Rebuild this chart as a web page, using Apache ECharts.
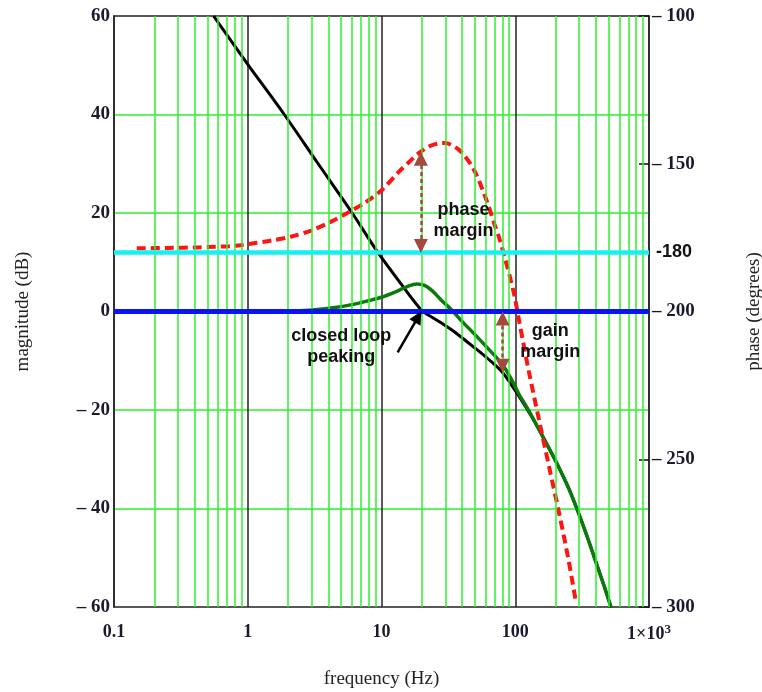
<!DOCTYPE html>
<html>
<head>
<meta charset="utf-8">
<script src="https://cdn.jsdelivr.net/npm/echarts@6/dist/echarts.min.js"></script>
<style>
html, body { margin: 0; padding: 0; background: #fff; }
#chart { width: 762px; height: 692px; }
</style>
</head>
<body>
<div id="chart"></div>
<script>
// open loop magnitude (dB)
var freqOpen = [0.555, 1, 1.875, 3.3, 5.94, 9.17, 14, 20, 24, 28.3, 35, 50.4, 65, 80.5, 93, 106.6, 125, 150, 200, 250, 300, 350, 400, 460, 521];
var magOpen  = [60, 50.2, 40, 30.3, 20.3, 12.4, 5.6, 0.2, -1.2, -2.4, -4.1, -7.5, -10, -12.4, -14.8, -17.2, -20.2, -23.9, -30.3, -35.8, -41.2, -46.2, -50.8, -55.6, -60.1];
// closed loop magnitude (dB)
var freqClosed = [2.2, 3, 4.2, 6, 8, 10, 13, 16, 18.3, 21, 24, 28, 33.5, 40, 50, 63, 80.5, 95, 106.6, 120, 134, 160, 200, 250, 300, 350, 400, 460, 521];
var magClosed  = [0.1, 0.3, 0.7, 1.4, 2.2, 2.9, 4.1, 5.2, 5.6, 5.3, 4.2, 2.3, 0.3, -2.0, -4.7, -7.6, -10.8, -14.1, -16.8, -19.1, -21.4, -25.3, -30.3, -35.8, -41.2, -46.2, -50.8, -55.6, -60.1];
// open loop phase (degrees)
var freqPhase = [0.148, 0.25, 0.42, 0.79, 1.11, 1.5, 2.1, 2.98, 4.2, 5.6, 7.5, 10, 13.3, 16, 18.9, 22.5, 26.7, 30, 33.5, 38, 42.3, 48, 53.3, 58, 63.4, 70, 75.4, 84.5, 97.7, 106.6, 126.7, 150.6, 179, 213, 250, 284];
var phaseDeg  = [-178.6, -178.5, -178.3, -177.8, -176.9, -176, -174.7, -172.6, -169.6, -166.6, -163.2, -159, -153, -149.5, -146.5, -144.2, -143.1, -143, -143.7, -145.3, -147.6, -151.2, -155.5, -159.7, -164.5, -170.5, -174.7, -182.6, -193.8, -202.9, -220.5, -236.7, -252.5, -268.3, -284, -298.2];

var phaseMarginFreq = 19.7;
var phaseMarginTop = -146;
var gainMarginFreq = 80.5;
var gainMarginLow = -12.4;

function pairs(xs, ys) {
	var out = [];
	for (var i = 0; i < xs.length; i++) out.push([xs[i], ys[i]]);
	return out;
}

// minor log grid lines 2..9 in every decade
var minorLines = [];
[0.1, 1, 10, 100].forEach(function (d) {
	for (var k = 2; k <= 9; k++) minorLines.push({ xAxis: Number((d * k).toPrecision(3)) });
});

var serif = 'Liberation Serif';
var sans = 'Liberation Sans';
var gridGreen = '#2cf02c';
var brown = '#a24a3e';

var myChart = echarts.init(document.getElementById('chart'));
var option = {
	animation: false,
	grid: {
		left: 114, right: 113, top: 16, bottom: 85,
		outerBoundsMode: 'none', containLabel: false,
		show: true, borderColor: '#222', borderWidth: 1.5, backgroundColor: '#fff'
	},
	xAxis: {
		type: 'log', logBase: 10, min: 0.1, max: 1000,
		name: 'frequency (Hz)', nameLocation: 'middle', nameGap: 63,
		nameTextStyle: { fontFamily: serif, fontSize: 19, color: '#222' },
		axisLine: { show: true, lineStyle: { color: '#222', width: 1.5 } },
		axisTick: { show: false },
		axisLabel: {
			margin: 16, fontFamily: serif, fontWeight: 'bold', fontSize: 18, color: '#1a1a2e',
			formatter: function (v) {
				var n = Number(v.toPrecision(3));
				if (n === 1000) return '1×10{sup|3}';
				return String(n);
			},
			rich: { sup: { fontFamily: serif, fontWeight: 'bold', fontSize: 13, color: '#1a1a2e', verticalAlign: 'top', padding: [0, 0, 10, 0] } }
		},
		splitLine: { show: true, showMinLine: false, showMaxLine: false, lineStyle: { color: '#222', width: 1.5 } }
	},
	yAxis: [
		{
			type: 'value', min: -60, max: 60, interval: 20,
			name: 'magnitude (dB)', nameLocation: 'middle', nameGap: 81, nameRotate: 90,
			nameTextStyle: { fontFamily: serif, fontSize: 19, color: '#222' },
			axisLine: { show: true, lineStyle: { color: '#222', width: 1.5 } },
			axisTick: { show: false },
			axisLabel: {
				margin: 4, fontFamily: serif, fontWeight: 'bold', fontSize: 19, color: '#1a1a2e',
				formatter: function (v) { return v < 0 ? '– ' + Math.abs(v) : String(v); }
			},
			splitLine: { show: true, showMinLine: false, showMaxLine: false, lineStyle: { color: gridGreen, width: 1.5 } }
		},
		{
			type: 'value', min: -300, max: -100, interval: 50, position: 'right',
			name: 'phase (degrees)', nameLocation: 'middle', nameGap: 96, nameRotate: 90,
			nameTextStyle: { fontFamily: serif, fontSize: 19, color: '#222' },
			axisLine: { show: true, lineStyle: { color: '#222', width: 1.5 } },
			axisTick: { show: true, inside: true, length: 10, lineStyle: { color: '#111', width: 1.5 } },
			axisLabel: {
				margin: 3, fontFamily: serif, fontWeight: 'bold', fontSize: 19, color: '#1a1a2e',
				formatter: function (v) { return '– ' + Math.abs(v); }
			},
			splitLine: { show: false }
		}
	],
	series: [
		{
			// minor grid
			type: 'line', data: [], yAxisIndex: 0, z: 1, silent: true,
			markLine: {
				silent: true, symbol: 'none', label: { show: false },
				lineStyle: { color: gridGreen, width: 1.5, type: 'solid' },
				data: minorLines
			}
		},
		{
			// -180 reference
			type: 'line', data: [], yAxisIndex: 1, z: 2, silent: true,
			markLine: {
				silent: true, symbol: 'none',
				lineStyle: { color: '#16f0f0', width: 4.5, type: 'solid' },
				label: { show: true, position: 'end', distance: 7, formatter: '-180', fontFamily: sans, fontWeight: 'bold', fontSize: 18, color: '#111' },
				data: [{ yAxis: -180 }]
			}
		},
		{
			// 0 dB reference
			type: 'line', data: [], yAxisIndex: 0, z: 2, silent: true,
			markLine: {
				silent: true, symbol: 'none', label: { show: false },
				lineStyle: { color: '#0a14f0', width: 5, type: 'solid' },
				data: [{ yAxis: 0 }]
			}
		},
		{
			name: 'open loop', type: 'line', yAxisIndex: 0, z: 3,
			data: pairs(freqOpen, magOpen), showSymbol: false, smooth: 0.3,
			lineStyle: { color: '#000', width: 3 }
		},
		{
			name: 'closed loop', type: 'line', yAxisIndex: 0, z: 4,
			data: pairs(freqClosed, magClosed), showSymbol: false, smooth: 0.3,
			lineStyle: { color: '#0b7a0b', width: 3.5 }
		},
		{
			name: 'phase', type: 'line', yAxisIndex: 1, z: 4,
			data: pairs(freqPhase, phaseDeg), showSymbol: false, smooth: 0.3,
			lineStyle: { color: '#ff1414', width: 4, type: [9, 5] }
		},
		{
			// phase margin arrow
			type: 'line', data: [], yAxisIndex: 1, z: 5, silent: true,
			markLine: {
				silent: true, symbol: ['triangle', 'triangle'], symbolSize: 14,
				label: { show: false },
				lineStyle: { color: brown, width: 2.5, type: [4, 3] },
				data: [[{ coord: [phaseMarginFreq, -177.8] }, { coord: [phaseMarginFreq, phaseMarginTop - 2.3] }]]
			}
		},
		{
			// gain margin arrow, peaking arrow, texts
			type: 'line', data: [], yAxisIndex: 0, z: 5, silent: true,
			markLine: {
				silent: true, symbol: ['triangle', 'triangle'], symbolSize: 14,
				label: { show: false },
				lineStyle: { color: brown, width: 2.5, type: [4, 3] },
				data: [
					[{ coord: [gainMarginFreq, -1.4] }, { coord: [gainMarginFreq, gainMarginLow + 1.4] }],
					[{ coord: [13.2, -8.3], symbol: 'none', lineStyle: { color: '#000', type: 'solid', width: 2.5 } },
					 { coord: [18.8, -1.1], symbol: 'triangle', symbolSize: 13, lineStyle: { color: '#000', type: 'solid', width: 2.5 } }]
				]
			},
			markPoint: {
				silent: true, symbol: 'circle', symbolSize: 0,
				label: { show: true, position: 'inside', fontFamily: sans, fontWeight: 'bold', fontSize: 18, lineHeight: 21, color: '#111', align: 'center' },
				data: [
					{ coord: [41, 18.4], label: { formatter: 'phase\nmargin' } },
					{ coord: [183, -6.0], label: { formatter: 'gain\nmargin' } },
					{ coord: [5.0, -7.2], label: { formatter: 'closed loop\npeaking' } }
				]
			}
		}
	]
};
myChart.setOption(option, true);
</script>
</body>
</html>
